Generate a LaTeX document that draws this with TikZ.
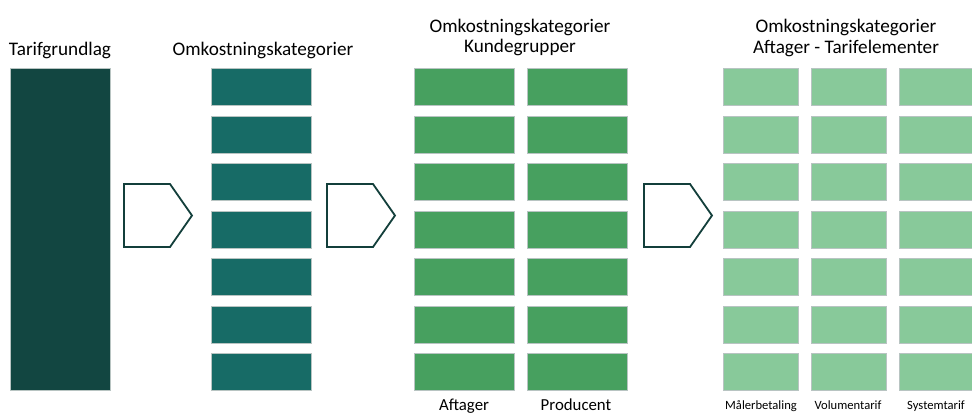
\documentclass[tikz,border=0pt]{standalone}
\usepackage{fontspec}
\setmainfont{Carlito}
\definecolor{cdark}{HTML}{124641}
\definecolor{cteal}{HTML}{176B66}
\definecolor{cgreen}{HTML}{47A05F}
\definecolor{clight}{HTML}{88C99A}
\definecolor{carrow}{HTML}{133F3B}
\definecolor{cedge}{HTML}{B8C4C2}
\begin{document}
\begin{tikzpicture}[x=1pt,y=-1pt,
  cell/.style={draw=cedge, line width=0.5pt, anchor=north west, inner sep=0pt, minimum height=37pt},
  title/.style={font=\fontsize{19.2}{23}\selectfont, anchor=base, inner sep=0pt},
  sublabel/.style={font=\fontsize{16.8}{20}\selectfont, anchor=base, inner sep=0pt},
  small/.style={font=\fontsize{12.6}{15}\selectfont, anchor=base, inner sep=0pt},
  chevron/.style={draw=carrow, line width=1.8pt, fill=white, line join=miter}]
\useasboundingbox (0,0) rectangle (972,413);
% column 1
\node[cell, fill=cdark, minimum width=100pt, minimum height=322pt] (base) at (10,68) {};
\node[title] (t1) at (60,55) {Tarifgrundlag};
% column 2
\foreach \i in {0,...,6} {
  \node[cell, fill=cteal, minimum width=100pt] (k\i) at (211,{68+47.5*\i}) {};
}
\node[title] (t2) at (263,55) {Omkostningskategorier};
% column 3
\foreach \i in {0,...,6} {
  \node[cell, fill=cgreen, minimum width=100pt] (a\i) at (414,{68+47.5*\i}) {};
  \node[cell, fill=cgreen, minimum width=100pt] (p\i) at (527,{68+47.5*\i}) {};
}
\node[title] (t3a) at (520,32) {Omkostningskategorier};
\node[title] (t3b) at (520,52) {Kundegrupper};
\node[sublabel] (la) at (464,410) {Aftager};
\node[sublabel] (lp) at (576,410) {Producent};
% column 4
\foreach \i in {0,...,6} {
  \node[cell, fill=clight, minimum width=75pt] (m\i) at (723,{68+47.5*\i}) {};
  \node[cell, fill=clight, minimum width=75pt] (v\i) at (811,{68+47.5*\i}) {};
  \node[cell, fill=clight, minimum width=75pt] (s\i) at (899,{68+47.5*\i}) {};
}
\node[title] (t4a) at (846,32) {Omkostningskategorier};
\node[title] (t4b) at (846,53) {Aftager - Tarifelementer};
\node[small] (lm) at (761,409) {Målerbetaling};
\node[small] (lv) at (848,409) {Volumentarif};
\node[small] (ls) at (936,409) {Systemtarif};
% chevrons
\foreach \x in {124,327,644} {
  \draw[chevron] (\x,184) -- ++(46,0) -- ++(22,31.5) -- ++(-22,31.5) -- ++(-46,0) -- cycle;
}
\end{tikzpicture}
\end{document}
